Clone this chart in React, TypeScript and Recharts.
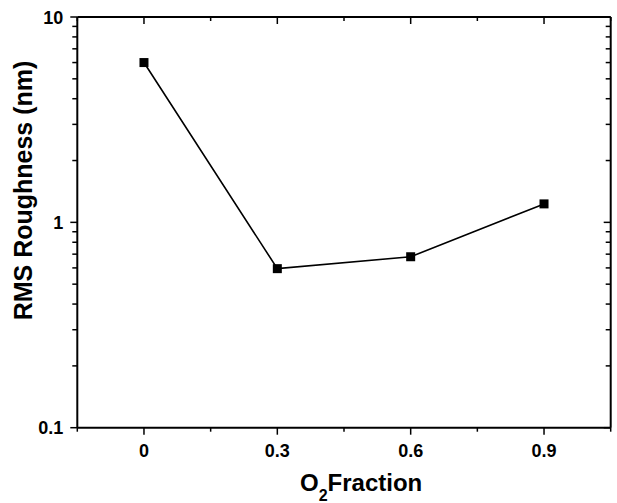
import React from 'react';
import { LineChart, Line, XAxis, YAxis, Label } from 'recharts';

const o2Fraction = [0, 0.3, 0.6, 0.9];
const rmsRoughness = [6.0, 0.595, 0.68, 1.23];
const xTicks = [-0.15, 0, 0.15, 0.3, 0.45, 0.6, 0.75, 0.9, 1.05];
const xLabelled = [0, 0.3, 0.6, 0.9];
const yTicks = [0.1, 0.2, 0.3, 0.4, 0.5, 0.6, 0.7, 0.8, 0.9, 1, 2, 3, 4, 5, 6, 7, 8, 9, 10];
const yLabelled = [0.1, 1, 10];

const data = o2Fraction.map((x, i) => ({ x, y: rmsRoughness[i] }));

const FONT = '"Liberation Sans", Arial, Helvetica, sans-serif';
const near = (a: number, arr: number[]) => arr.some((b) => Math.abs(a - b) < 1e-9);

const BottomTick = (props: any) => {
  const { x, y, payload } = props;
  const major = near(payload.value, xLabelled);
  return (
    <g>
      <line x1={x} y1={y} x2={x} y2={y + (major ? 7 : 4)} stroke="#000" strokeWidth={1.5} />
      {major && (
        <text x={x} y={y + 29} textAnchor="middle" fontFamily={FONT} fontWeight="bold" fontSize={18} fill="#000">
          {String(payload.value)}
        </text>
      )}
    </g>
  );
};

const TopTick = (props: any) => {
  const { x, y, payload } = props;
  const major = near(payload.value, xLabelled);
  return <line x1={x} y1={y} x2={x} y2={y + (major ? 7 : 4)} stroke="#000" strokeWidth={1.5} />;
};

const LeftTick = (props: any) => {
  const { x, y, payload } = props;
  const major = near(payload.value, yLabelled);
  return (
    <g>
      <line x1={x} y1={y} x2={x - (major ? 7 : 5)} y2={y} stroke="#000" strokeWidth={1.5} />
      {major && (
        <text x={x - 14} y={y + 6.5} textAnchor="end" fontFamily={FONT} fontWeight="bold" fontSize={18} fill="#000">
          {String(payload.value)}
        </text>
      )}
    </g>
  );
};

const RightTick = (props: any) => {
  const { x, y, payload } = props;
  const major = near(payload.value, yLabelled);
  return <line x1={x} y1={y} x2={x - (major ? 7 : 5)} y2={y} stroke="#000" strokeWidth={1.5} />;
};

const SquareDot = (props: any) => {
  const { cx, cy, index } = props;
  return <rect key={`d${index}`} x={cx - 4.5} y={cy - 4.5} width={9} height={9} fill="#000" />;
};

const XTitle = () => (
  <text x={300} y={491} fontFamily={FONT} fontWeight="bold" fontSize={24} fill="#000">
    <tspan>O</tspan>
    <tspan fontSize={16} dy={10}>2</tspan>
    <tspan dy={-10}>Fraction</tspan>
  </text>
);

const YTitle = () => (
  <text
    x={32}
    y={190.5}
    transform="rotate(-90, 32, 190.5)"
    textAnchor="middle"
    fontFamily={FONT}
    fontWeight="bold"
    fontSize={25}
    fill="#000"
  >
    RMS Roughness (nm)
  </text>
);

export default function App() {
  return (
    <div style={{ position: 'absolute', left: 0, top: 0, width: 617, height: 503, background: '#fff' }}>
      <LineChart width={617} height={503} data={data} margin={{ top: 0, right: 0, bottom: 0, left: 0 }}>
        <XAxis
          dataKey="x"
          type="number"
          domain={[-0.15, 1.05]}
          ticks={xTicks}
          interval={0}
          allowDataOverflow
          height={75.3}
          tickSize={0}
          tickMargin={0}
          tickLine={false}
          axisLine={{ stroke: '#000', strokeWidth: 2 }}
          tick={<BottomTick />}
        >
          <Label content={<XTitle />} />
        </XAxis>
        <XAxis
          xAxisId="top"
          orientation="top"
          dataKey="x"
          type="number"
          domain={[-0.15, 1.05]}
          ticks={xTicks}
          interval={0}
          allowDataOverflow
          height={17}
          tickSize={0}
          tickMargin={0}
          tickLine={false}
          axisLine={{ stroke: '#000', strokeWidth: 2 }}
          tick={<TopTick />}
        />
        <YAxis
          dataKey="y"
          scale="log"
          type="number"
          domain={[0.1, 10]}
          ticks={yTicks}
          interval={0}
          allowDataOverflow
          width={77.3}
          tickSize={0}
          tickMargin={0}
          tickLine={false}
          axisLine={{ stroke: '#000', strokeWidth: 2 }}
          tick={<LeftTick />}
        >
          <Label content={<YTitle />} />
        </YAxis>
        <YAxis
          yAxisId="right"
          orientation="right"
          dataKey="y"
          scale="log"
          type="number"
          domain={[0.1, 10]}
          ticks={yTicks}
          interval={0}
          allowDataOverflow
          width={6.3}
          tickSize={0}
          tickMargin={0}
          tickLine={false}
          axisLine={{ stroke: '#000', strokeWidth: 2 }}
          tick={<RightTick />}
        />
        <Line
          dataKey="y"
          type="linear"
          stroke="#000"
          strokeWidth={1.6}
          dot={<SquareDot />}
          activeDot={false}
          isAnimationActive={false}
        />
      </LineChart>
    </div>
  );
}
